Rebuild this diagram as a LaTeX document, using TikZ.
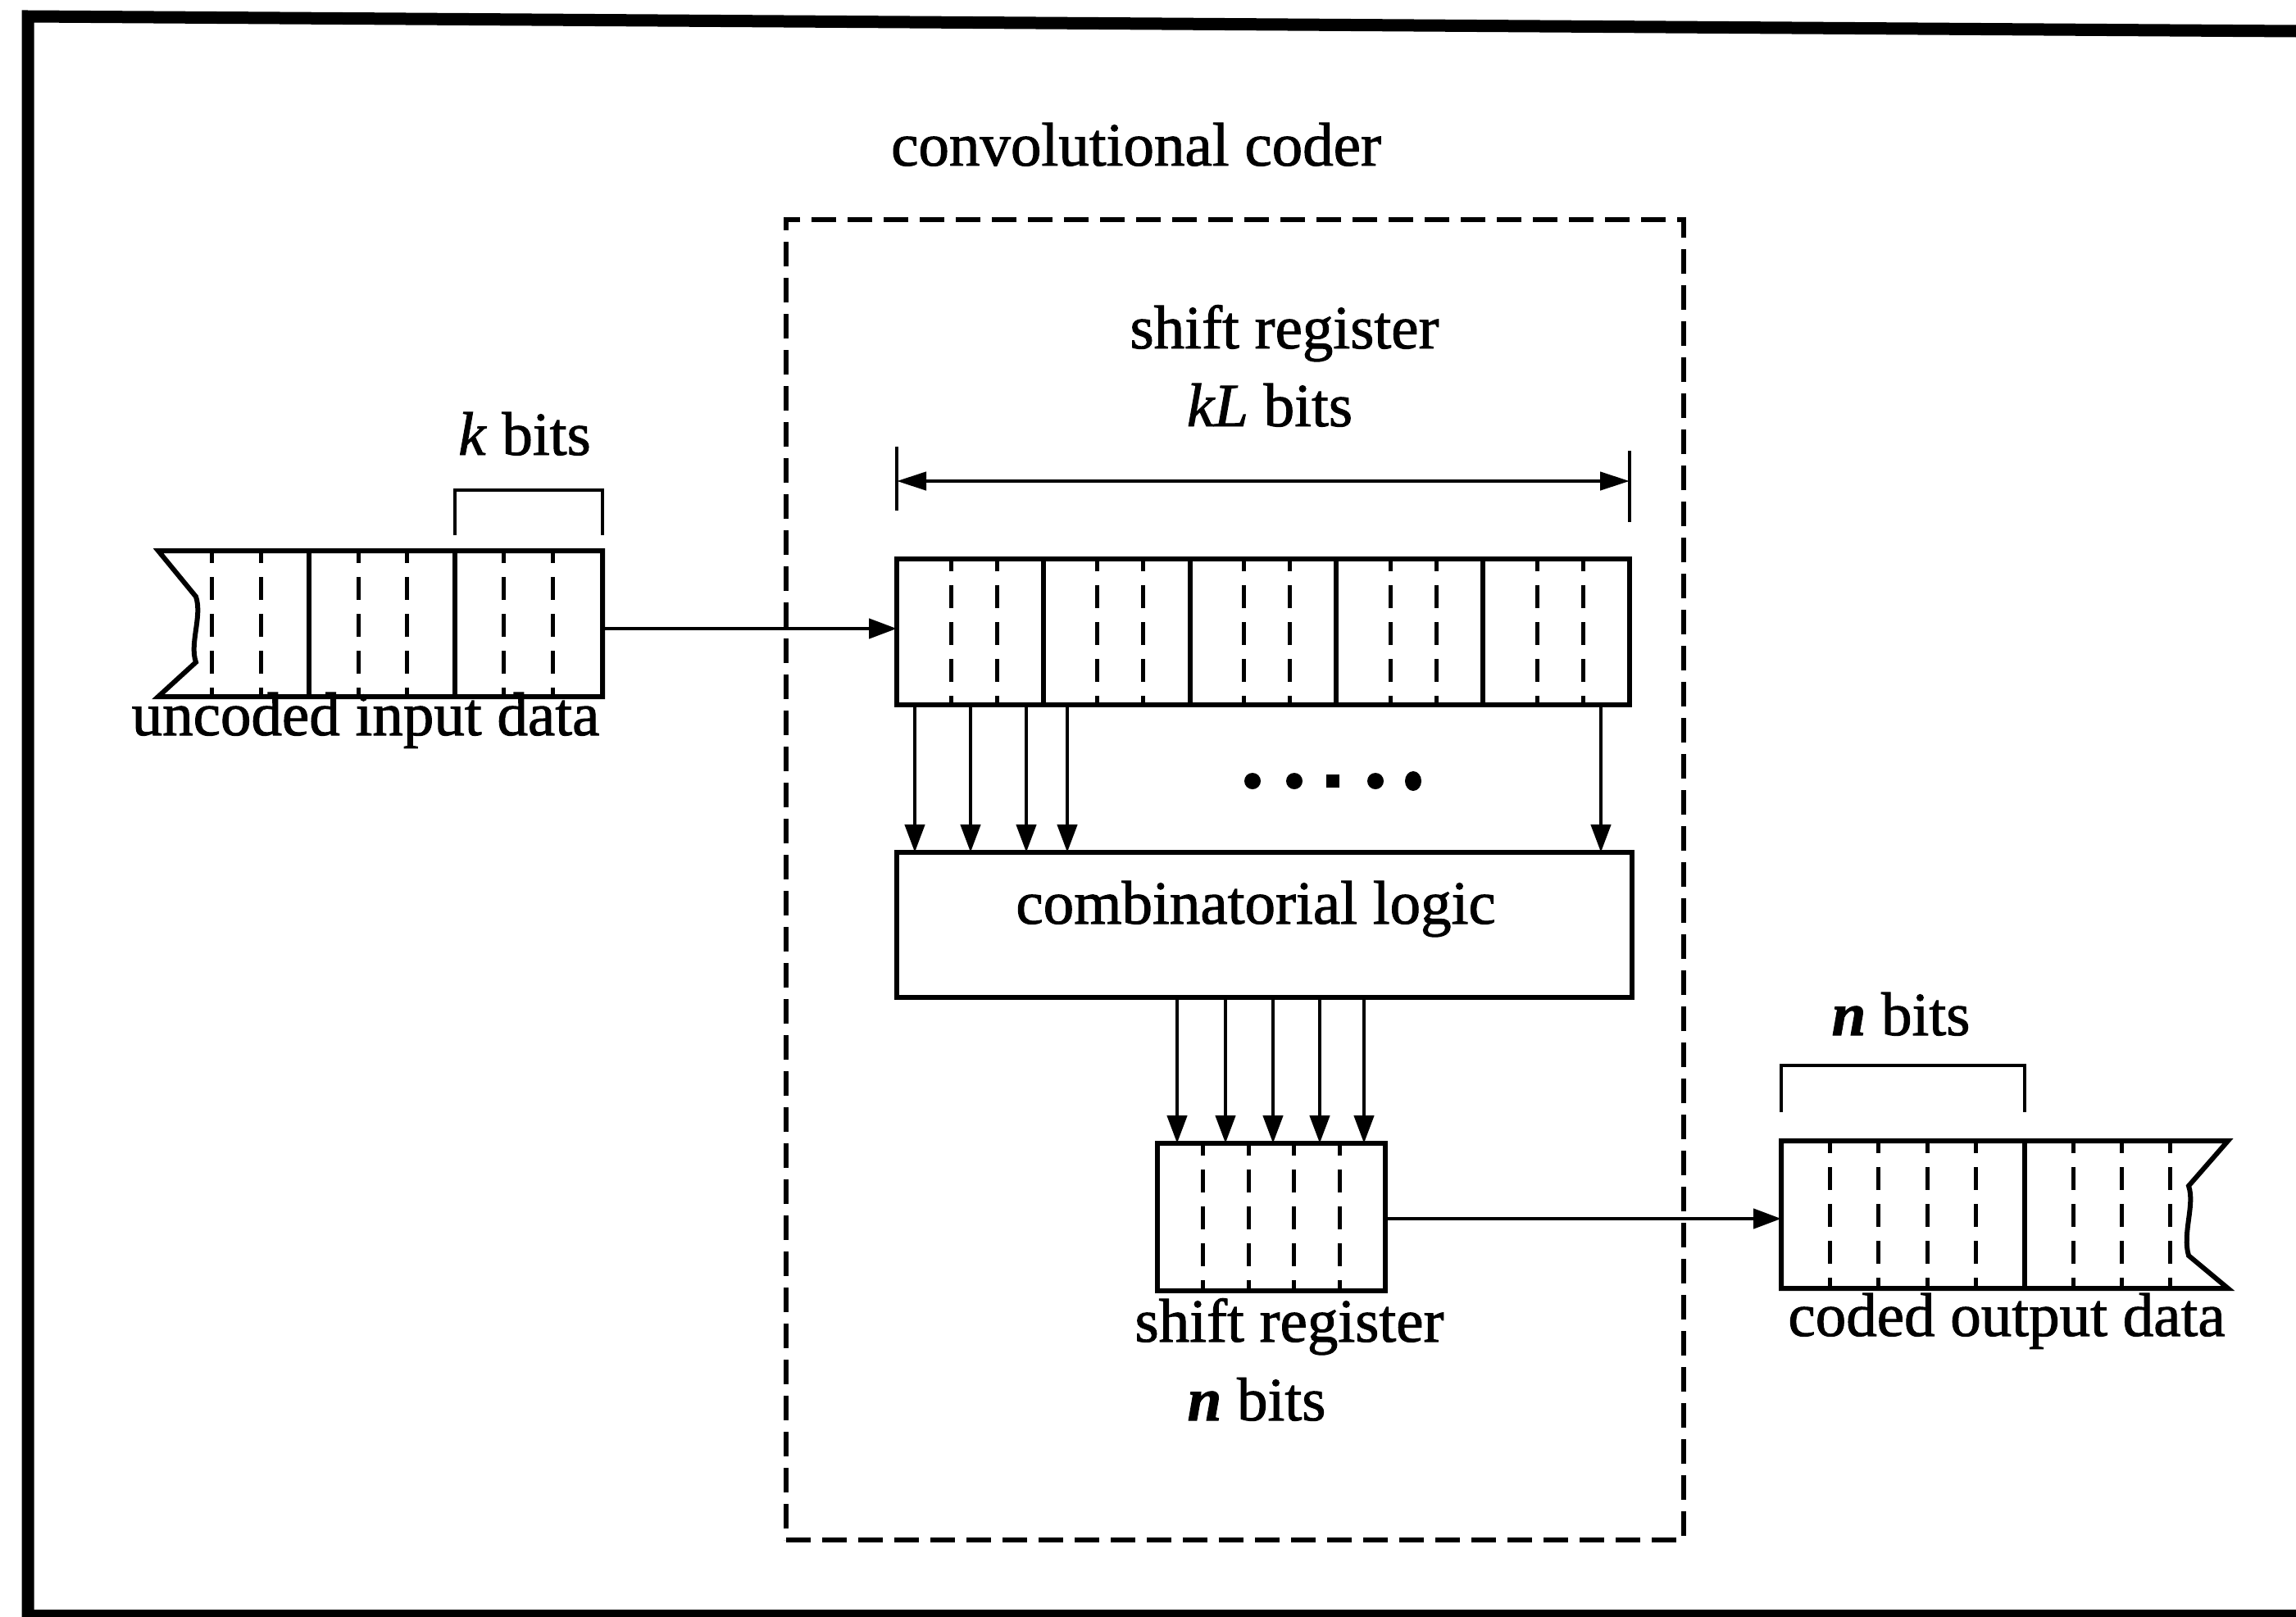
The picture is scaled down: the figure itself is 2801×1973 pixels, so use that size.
\documentclass[tikz,border=0pt]{standalone}
\usepackage{fontspec}
\setmainfont{Liberation Serif}[FakeBold=1.3]
\usetikzlibrary{arrows.meta}
\begin{document}
\begin{tikzpicture}[x=1pt,y=-1pt,
  lbl/.style={font=\fontsize{75}{90}\selectfont, inner sep=0pt, anchor=base},
  regbox/.style={draw, line width=6pt, inner sep=0pt, outer sep=0pt},
  subdiv/.style={line width=5pt, dash pattern=on 28pt off 17pt, dash phase=13pt},
  solidline/.style={line width=6pt, line join=miter},
  thinline/.style={line width=4.5pt},
  arr/.style={line width=4.5pt, -{Triangle[length=34pt,width=24pt]}},
  dimarr/.style={line width=4.5pt, {Triangle[length=36pt,width=22pt]}-{Triangle[length=36pt,width=22pt]}},
  coderbox/.style={draw, line width=6pt, dash pattern=on 30pt off 14pt, inner sep=0pt, outer sep=0pt},
]
\useasboundingbox (0,0) rectangle (2801,1973);
% outer frame
\draw[line width=15pt, line join=miter] (2801,38) -- (34,20) -- (34,1973);
\draw[line width=10pt] (27,1969) -- (2801,1969);

% convolutional coder box
\node[coderbox, minimum width=1095pt, minimum height=1611pt] (coder) at (1506.5,1073.5) {};
\node[lbl] (coderlbl) at (1386,202) {convolutional coder};

% top shift register (kL bits)
\node[regbox, minimum width=894pt, minimum height=178pt] (sr) at (1541,771) {};
\foreach \c in {0,...,4} {
  \pgfmathsetmacro\l{1094+\c*178.8}
  \draw[subdiv] (\l+66,682) -- (\l+66,860);
  \draw[subdiv] (\l+122,682) -- (\l+122,860);
}
\foreach \c in {1,...,4} {
  \pgfmathsetmacro\l{1094+\c*178.8}
  \draw[solidline] (\l,682) -- (\l,860);
}
\node[lbl] (srlbl) at (1567,425) {shift register};
\node[lbl] (kllbl) at (1549,520) {\textit{kL} bits};
\coordinate (dimL) at (1094,587);
\coordinate (dimR) at (1988,587);
\draw[thinline] (1094,545) -- (1094,623);
\draw[thinline] (1988,550) -- (1988,637);
\draw[dimarr] (dimL) -- (dimR);

% combinatorial logic
\node[regbox, minimum width=897pt, minimum height=177pt] (cl) at (1542.5,1128.5) {};
\node[lbl] (cllbl) at (1532,1127) {combinatorial logic};
\foreach \x in {1116,1184,1252,1302,1953}
  \draw[arr] (perpendicular cs: horizontal line through={(sr.south)}, vertical line through={(\x,0)})
          -- (perpendicular cs: horizontal line through={(cl.north)}, vertical line through={(\x,0)});
% dots
\fill (1528,953) circle (10pt);
\fill (1579,953) circle (10pt);
\fill (1618,945) rectangle (1634,961);
\fill (1678,953) circle (10pt);
\fill (1724,953) ellipse (10pt and 12pt);

% output shift register (n bits)
\node[regbox, minimum width=278pt, minimum height=180pt] (osr) at (1551,1485) {};
\foreach \k in {1,...,4}
  \draw[subdiv] (1412+\k*55.6,1395) -- (1412+\k*55.6,1575);
\foreach \x in {1436,1495,1553,1610,1664}
  \draw[arr] (perpendicular cs: horizontal line through={(cl.south)}, vertical line through={(\x,0)})
          -- (perpendicular cs: horizontal line through={(osr.north)}, vertical line through={(\x,0)});
\node[lbl] (osrlbl) at (1573,1637) {shift register};
\node[lbl] (nlbl1) at (1533,1733) {\textbf{\textit{n}} bits};

% uncoded input data
\draw[solidline] (193,672) -- (735,672) -- (735,850) -- (193,850) -- (239,808)
  .. controls (231,785) and (247,752) .. (239,728) -- cycle;
\foreach \x in {377,555} \draw[solidline] (\x,672) -- (\x,850);
\foreach \x in {258,318,437,496,614,674} \draw[subdiv] (\x,672) -- (\x,850);
\draw[thinline] (555,653) -- (555,598) -- (735,598) -- (735,653);
\node[lbl] (klbl) at (640,555) {\textit{k} bits};
\node[lbl] (inlbl) at (446,897) {uncoded input data};
\coordinate (inR) at (735,767);
\draw[arr] (inR) -- (inR -| sr.west);

% coded output data
\draw[solidline] (2173,1392) -- (2718,1392) -- (2670,1447)
  .. controls (2678,1470) and (2662,1505) .. (2670,1532) -- (2718,1572) -- (2173,1572) -- cycle;
\draw[solidline] (2470,1392) -- (2470,1572);
\foreach \x in {2232,2291,2351,2410,2529,2588,2647} \draw[subdiv] (\x,1392) -- (\x,1572);
\draw[thinline] (2173,1357) -- (2173,1300) -- (2470,1300) -- (2470,1357);
\node[lbl] (nlbl2) at (2319,1263) {\textbf{\textit{n}} bits};
\node[lbl] (outlbl) at (2448,1630) {coded output data};
\coordinate (outL) at (2173,1487);
\draw[arr] (osr.east |- outL) -- (outL);
\end{tikzpicture}
\end{document}
